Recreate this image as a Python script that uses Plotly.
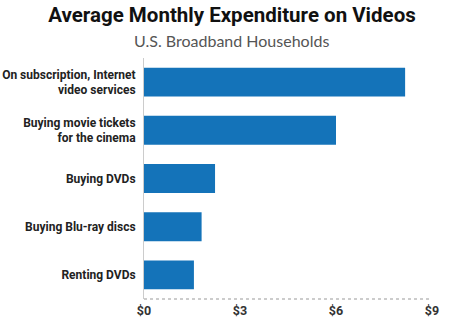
import plotly.graph_objects as go

categories = [
    "On subscription, Internet<br>video services",
    "Buying movie tickets<br>for the cinema",
    "Buying DVDs",
    "Buying Blu-ray discs",
    "Renting DVDs",
]
values = [8.16, 6.0, 2.22, 1.80, 1.56]
tick_vals = [0, 3, 6, 9]
tick_text = ["$0", "$3", "$6", "$9"]

title_text = "Average Monthly Expenditure on Videos"
subtitle_text = "U.S. Broadband Households"

lab_font = "Roboto, sans-serif"

fig = go.Figure(
    go.Bar(
        x=values,
        y=categories,
        orientation="h",
        marker=dict(color="#1473b9", line=dict(width=0)),
        width=0.6,
        hoverinfo="skip",
    )
)

fig.update_layout(
    width=461,
    height=321,
    margin=dict(l=144, r=29, t=58, b=22, autoexpand=False),
    paper_bgcolor="white",
    plot_bgcolor="white",
    showlegend=False,
    title=dict(
        text=title_text,
        x=232 / 461,
        xanchor="center",
        xref="container",
        y=1 - 15 / 321,
        yref="container",
        yanchor="middle",
        font=dict(family="Roboto, sans-serif", size=20.5, color="#111111", weight="bold"),
    ),
    annotations=[
        dict(
            text=subtitle_text,
            xref="paper",
            yref="paper",
            x=(231.5 - 144) / 288,
            y=259 / 241,
            xanchor="center",
            yanchor="middle",
            showarrow=False,
            font=dict(family="Lato, sans-serif", size=16, color="#555555"),
        )
    ],
    shapes=[
        dict(
            type="line",
            xref="x",
            yref="paper",
            x0=0,
            x1=9,
            y0=0,
            y1=0,
            line=dict(color="#999999", width=1, dash="dot"),
        )
    ],
)

fig.update_xaxes(
    range=[0, 9],
    tickvals=tick_vals,
    ticktext=tick_text,
    showgrid=False,
    zeroline=False,
    showline=False,
    ticks="",
    automargin=False,
    ticklabelstandoff=2,
    tickfont=dict(family=lab_font, size=12.5, color="#333333", weight="bold"),
    fixedrange=True,
)

fig.update_yaxes(
    categoryorder="array",
    categoryarray=categories,
    autorange="reversed",
    showgrid=False,
    zeroline=False,
    showline=True,
    linecolor="#cccccc",
    linewidth=1,
    ticks="",
    automargin=False,
    ticklabelstandoff=5,
    tickfont=dict(family=lab_font, size=12, color="#222222", weight="bold"),
    fixedrange=True,
)

fig.write_html("out.html", config={"displayModeBar": False})
